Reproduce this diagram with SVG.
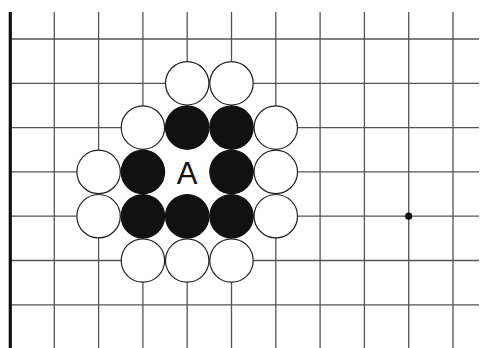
<svg xmlns="http://www.w3.org/2000/svg" width="481" height="348" viewBox="0 0 481 348">
<style>
.g{stroke:#555;stroke-width:1.3;fill:none}
.w{fill:#fff;stroke:#222;stroke-width:1.2}
.b{fill:#111;stroke:#111;stroke-width:1.2}
</style>
<rect width="481" height="348" fill="#fff"/>
<g id="grid">
<g class="g">
<line x1="54.3" y1="12" x2="54.3" y2="348"/>
<line x1="98.6" y1="12" x2="98.6" y2="348"/>
<line x1="142.9" y1="12" x2="142.9" y2="348"/>
<line x1="187.2" y1="12" x2="187.2" y2="348"/>
<line x1="231.5" y1="12" x2="231.5" y2="348"/>
<line x1="275.8" y1="12" x2="275.8" y2="348"/>
<line x1="320.1" y1="12" x2="320.1" y2="348"/>
<line x1="364.4" y1="12" x2="364.4" y2="348"/>
<line x1="408.7" y1="12" x2="408.7" y2="348"/>
<line x1="453" y1="12" x2="453" y2="348"/>
<line x1="10" y1="39" x2="479" y2="39"/>
<line x1="10" y1="83.3" x2="479" y2="83.3"/>
<line x1="10" y1="127.6" x2="479" y2="127.6"/>
<line x1="10" y1="171.9" x2="479" y2="171.9"/>
<line x1="10" y1="216.2" x2="479" y2="216.2"/>
<line x1="10" y1="260.5" x2="479" y2="260.5"/>
<line x1="10" y1="304.8" x2="479" y2="304.8"/>
</g>
<line x1="10.3" y1="12" x2="10.3" y2="348" stroke="#111" stroke-width="3.2"/>
<circle cx="408.7" cy="216.2" r="3.6" fill="#111"/>
<rect x="163" y="148" width="48.4" height="48" fill="#fff"/>
</g>
<g id="white-stones">
<circle class="w" cx="187.2" cy="83.3" r="21.7"/>
<circle class="w" cx="231.5" cy="83.3" r="21.7"/>
<circle class="w" cx="142.9" cy="127.6" r="21.7"/>
<circle class="w" cx="275.8" cy="127.6" r="21.7"/>
<circle class="w" cx="98.6" cy="171.9" r="21.7"/>
<circle class="w" cx="275.8" cy="171.9" r="21.7"/>
<circle class="w" cx="98.6" cy="216.2" r="21.7"/>
<circle class="w" cx="275.8" cy="216.2" r="21.7"/>
<circle class="w" cx="142.9" cy="260.5" r="21.7"/>
<circle class="w" cx="187.2" cy="260.5" r="21.7"/>
<circle class="w" cx="231.5" cy="260.5" r="21.7"/>
</g>
<g id="black-stones">
<circle class="b" cx="187.2" cy="127.6" r="21.7"/>
<circle class="b" cx="231.5" cy="127.6" r="21.7"/>
<circle class="b" cx="142.9" cy="171.9" r="21.7"/>
<circle class="b" cx="231.5" cy="171.9" r="21.7"/>
<circle class="b" cx="142.9" cy="216.2" r="21.7"/>
<circle class="b" cx="187.2" cy="216.2" r="21.7"/>
<circle class="b" cx="231.5" cy="216.2" r="21.7"/>
</g>
<g id="point-A">
<text x="187.2" y="183.5" text-anchor="middle" font-family="Liberation Sans, Arial, sans-serif" font-size="31" fill="#111">A</text>
</g>
</svg>
